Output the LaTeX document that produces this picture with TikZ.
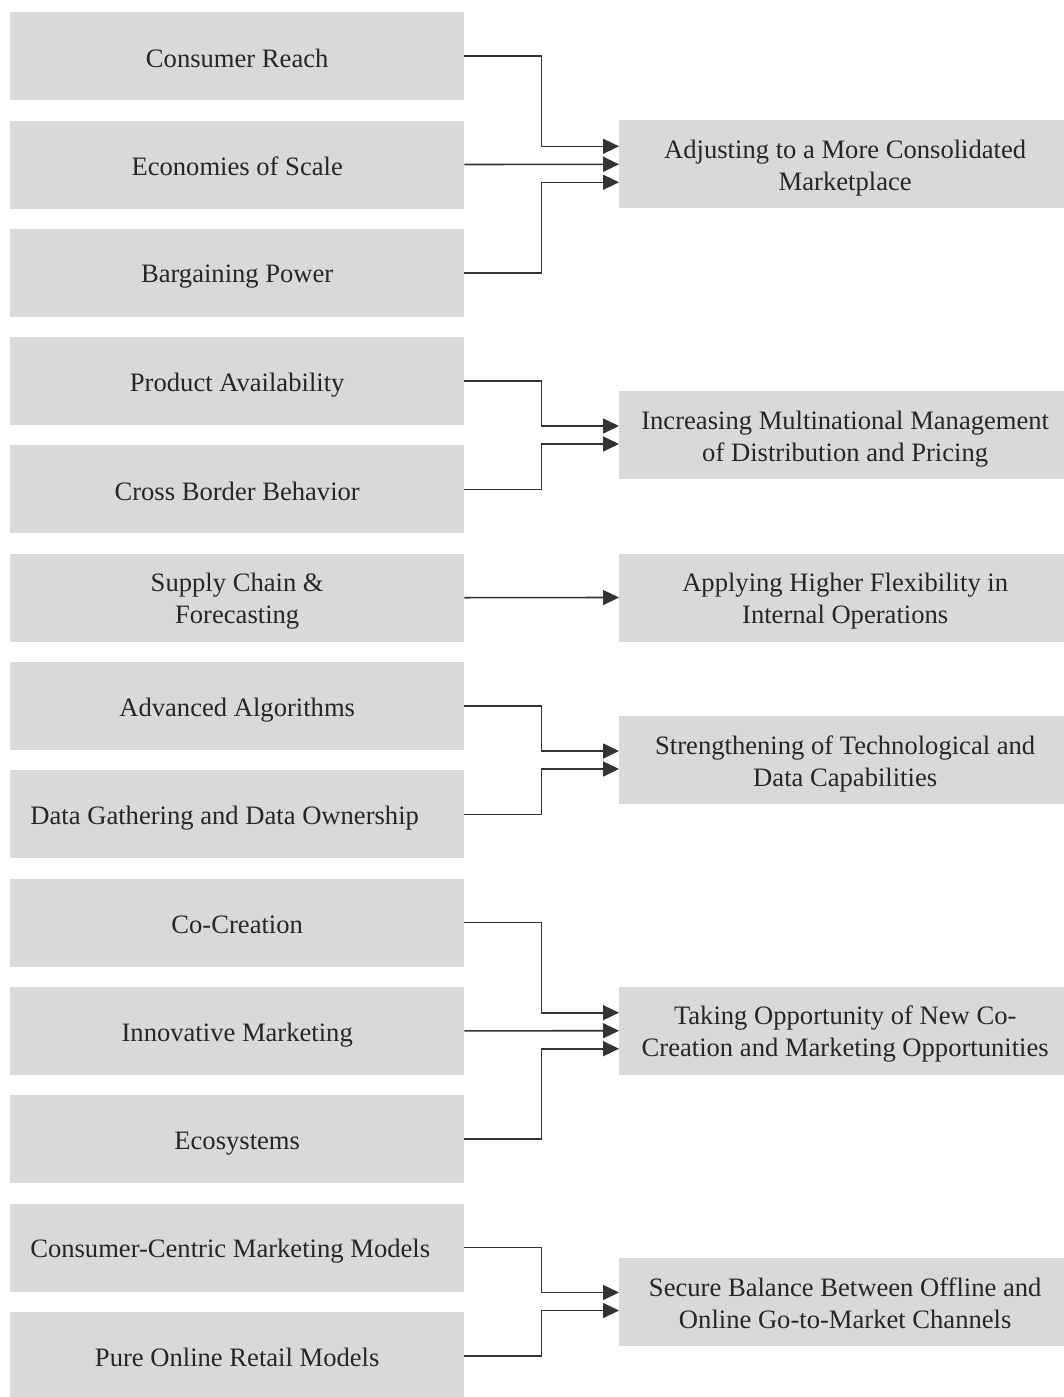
\documentclass[tikz,border=0pt]{standalone}
\usepackage{fontspec}
\setmainfont{Liberation Serif}
\usetikzlibrary{arrows.meta}
\definecolor{boxgray}{HTML}{D9D9D9}
\definecolor{txt}{HTML}{262626}
\definecolor{lin}{HTML}{333333}
\newcommand\ks{\rule[-4.4pt]{0pt}{30.4pt}}
\begin{document}
\begin{tikzpicture}[x=1pt,y=-1pt,
  lbox/.style={fill=boxgray, minimum width=454pt, minimum height=88pt, inner sep=0pt,
    anchor=north west, font=\fontsize{26.6}{32}\selectfont, text=txt, align=center},
  rbox/.style={fill=boxgray, minimum width=452pt, minimum height=88pt, inner sep=0pt,
    anchor=west, font=\fontsize{26.6}{32}\selectfont, text=txt, align=center},
  conn/.style={draw=lin, line width=1.6pt, -{Triangle[length=16pt,width=15pt]}}]
\useasboundingbox (0,0) rectangle (1064,1397);
\clip (0,0) rectangle (1064,1397);
\fill[white] (0,0) rectangle (1064,1397);
% left boxes
\node[lbox] (b0) at (10,12) {\ks Consumer Reach};
\node[lbox] (b1) at (10,120.3) {\ks Economies of Scale};
\node[lbox] (b2) at (10,228.6) {\ks Bargaining Power};
\node[lbox] (b3) at (10,336.9) {\ks Product Availability};
\node[lbox] (b4) at (10,445.2) {\ks Cross Border Behavior};
\node[lbox] (b5) at (10,553.5) {\ks Supply Chain \&\\\ks Forecasting};
\node[lbox] (b6) at (10,661.8) {\ks Advanced Algorithms};
\node[lbox] (b7) at (10,770.1) {\ks\hspace*{-25pt}Data Gathering and Data Ownership};
\node[lbox] (b8) at (10,878.4) {\ks Co-Creation};
\node[lbox] (b9) at (10,986.7) {\ks Innovative Marketing};
\node[lbox] (b10) at (10,1095) {\ks Ecosystems};
\node[lbox] (b11) at (10,1203.3) {\ks\hspace*{-14pt}Consumer-Centric Marketing Models};
\node[lbox] (b12) at (10,1311.6) {\ks Pure Online Retail Models};
% right boxes
\node[rbox] (r0) at (619,164.3) {\ks Adjusting to a More Consolidated\\\ks Marketplace};
\node[rbox] (r1) at (619,435) {\ks Increasing Multinational Management\\\ks of Distribution and Pricing};
\node[rbox] (r2) at (619,597.5) {\ks Applying Higher Flexibility in\\\ks Internal Operations};
\node[rbox] (r3) at (619,760) {\ks Strengthening of Technological and\\\ks Data Capabilities};
\node[rbox] (r4) at (619,1030.7) {\ks Taking Opportunity of New Co-\\\ks Creation and Marketing Opportunities};
\node[rbox] (r5) at (619,1301.5) {\ks Secure Balance Between Offline and\\\ks Online Go-to-Market Channels};
% connectors
\draw[conn] (b0.east) -- ++(77,0) |- ([yshift=18pt]r0.west);
\draw[conn] (b1.east) -- (r0.west);
\draw[conn] (b2.east) -- ++(77,0) |- ([yshift=-18pt]r0.west);
\draw[conn] (b3.east) -- ++(77,0) |- ([yshift=9pt]r1.west);
\draw[conn] (b4.east) -- ++(77,0) |- ([yshift=-9pt]r1.west);
\draw[conn] (b5.east) -- (r2.west);
\draw[conn] (b6.east) -- ++(77,0) |- ([yshift=9pt]r3.west);
\draw[conn] (b7.east) -- ++(77,0) |- ([yshift=-9pt]r3.west);
\draw[conn] (b8.east) -- ++(77,0) |- ([yshift=18pt]r4.west);
\draw[conn] (b9.east) -- (r4.west);
\draw[conn] (b10.east) -- ++(77,0) |- ([yshift=-18pt]r4.west);
\draw[conn] (b11.east) -- ++(77,0) |- ([yshift=9pt]r5.west);
\draw[conn] (b12.east) -- ++(77,0) |- ([yshift=-9pt]r5.west);
\end{tikzpicture}
\end{document}
